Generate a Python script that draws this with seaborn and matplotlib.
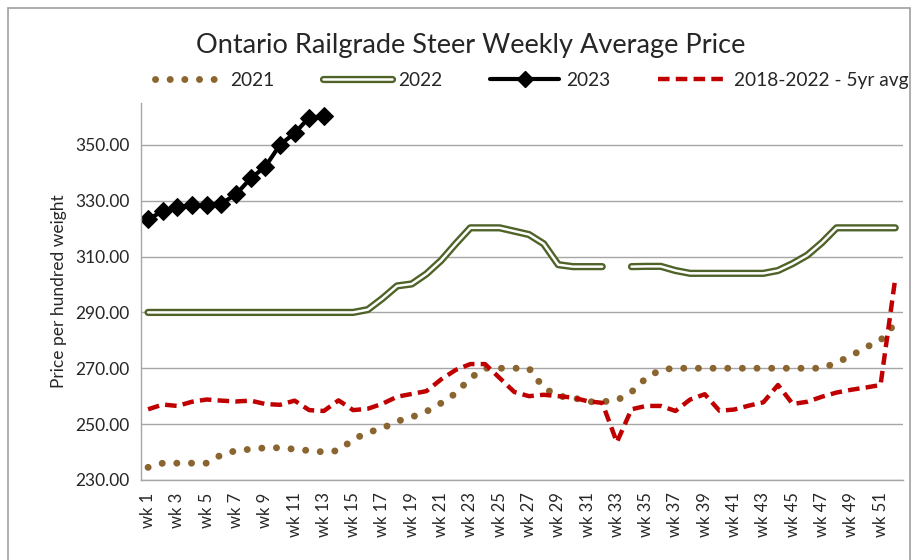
import numpy as np
import pandas as pd
import matplotlib.pyplot as plt
import seaborn as sns
from matplotlib.lines import Line2D
from matplotlib.patches import Rectangle
from matplotlib.legend_handler import HandlerTuple

sns.set_style("white")
plt.rcParams['font.family'] = ['Lato', 'DejaVu Sans']

weeks = list(range(1, 53))
week_labels = [f"wk {w}" for w in weeks]

y2021 = [234.5, 236, 236, 236, 236, 239, 240.5, 241, 241.5, 241.5,
         241, 240.5, 240, 240.5, 244.5, 247, 248.5, 251, 252.5, 254.5,
         257.5, 261, 266.5, 270, 270, 270, 270, 263, 260, 259.5,
         258, 258, 258.5, 261.5, 266.5, 269.5, 270, 270, 270, 270,
         270, 270, 270, 270, 270, 270, 270, 272, 274.5, 277.5,
         280, 286]
y2022 = [290, 290, 290, 290, 290, 290, 290, 290, 290, 290,
         290, 290, 290, 290, 290, 291, 295, 299.5, 300.2, 303.8,
         308.6, 314.6, 320.3, 320.3, 320.3, 319.1, 317.9, 314.6, 307.1, 306.4,
         306.4, 306.4, np.nan, 306.4, 306.5, 306.5, 305, 304, 304, 304,
         304, 304, 304, 305, 307.5, 310.5, 315, 320.3, 320.3, 320.3,
         320.3, 320.3]
y2023 = [323.3, 326.3, 327.8, 328.4, 328.4, 329, 332.3, 338, 342.2, 350,
         354.2, 359.8, 360.2]
avg5 = [255.3, 257, 256.5, 258, 258.8, 258.4, 258.1, 258.4, 257.2, 256.9,
        258.4, 255, 254.7, 258.5, 255, 255.5, 257.3, 259.8, 260.8, 261.8,
        266, 269.4, 271.5, 271.5, 266.5, 261.5, 260, 260.5, 260, 259.5,
        258.2, 257.6, 243.5, 255.3, 256.5, 256.5, 254.7, 258.8, 260.7, 254.8,
        255.2, 256.6, 257.8, 264, 257.2, 258, 259.8, 261.3, 262.3, 263.1,
        264, 302]

brown = "#8a6530"
green = "#4f6228"
red = "#c00000"
grey = "#a6a6a6"

df = pd.DataFrame({"week": weeks, "y2021": y2021, "y2022": y2022, "avg": avg5})
df23 = pd.DataFrame({"week": weeks[:len(y2023)], "y2023": y2023})
seg_a = df[df["week"] <= 32]
seg_b = df[df["week"] >= 34]

fig = plt.figure(figsize=(9.2, 5.6), dpi=100)
ax = fig.add_axes([0.153, 0.143, 0.828, 0.673])

dot_style = (0, (0.01, 2.1))
sns.lineplot(data=df, x="week", y="y2021", ax=ax, color=brown, lw=5,
             linestyle=dot_style, dash_capstyle="round", legend=False)
for seg in (seg_a, seg_b):
    sns.lineplot(data=seg, x="week", y="y2022", ax=ax, color=green, lw=5.2,
                 solid_capstyle="round", legend=False)
    sns.lineplot(data=seg, x="week", y="y2022", ax=ax, color="white", lw=1.8,
                 solid_capstyle="round", legend=False)
sns.lineplot(data=df23, x="week", y="y2023", ax=ax, color="black", lw=3,
             marker="D", markersize=9.5, markeredgecolor="black",
             markerfacecolor="black", legend=False)
sns.lineplot(data=df, x="week", y="avg", ax=ax, color=red, lw=3.2,
             linestyle=(0, (2.6, 1.4)), legend=False)

ax.set_xlim(0.5, 52.5)
ax.set_ylim(230, 365)
yt = np.arange(230, 351, 20)
ax.set_yticks(yt)
ax.set_yticklabels([f"{v:.2f}" for v in yt], fontsize=12.5)
ax.set_xticks(weeks[::2])
ax.set_xticklabels(week_labels[::2], rotation=90, fontsize=12)
ax.set_xticks(np.arange(0.5, 53, 1), minor=True)
ax.tick_params(axis="x", which="major", length=0, pad=9)
ax.tick_params(axis="x", which="minor", length=5, color=grey, width=1)
ax.tick_params(axis="y", length=5, color=grey, width=1, pad=3)
ax.grid(axis="y", color=grey, lw=1)
ax.set_axisbelow(True)
for s in ("top", "right"):
    ax.spines[s].set_visible(False)
for s in ("left", "bottom"):
    ax.spines[s].set_color(grey)
    ax.spines[s].set_linewidth(1)
ax.set_xlabel("")
ax.set_ylabel("Price per hundred weight", fontsize=12.5, labelpad=6)

fig.text(0.512, 0.918, "Ontario Railgrade Steer Weekly Average Price",
         ha="center", va="center", fontsize=19.5)

h2021 = Line2D([], [], color=brown, lw=5, linestyle=dot_style, dash_capstyle="round")
h2022 = (Line2D([], [], color=green, lw=5.2, solid_capstyle="round"),
         Line2D([], [], color="white", lw=1.8, solid_capstyle="round"))
h2023 = Line2D([], [], color="black", lw=3, marker="D", markersize=8.5, markevery=[1])
havg = Line2D([], [], color=red, lw=3.2, linestyle=(0, (2.6, 1.4)))
fig.legend([h2021, h2022, h2023, havg],
           ["2021", "2022", "2023", "2018-2022 - 5yr avg"],
           handler_map={tuple: HandlerTuple(ndivide=1)},
           loc="center", bbox_to_anchor=(0.578, 0.857), ncol=4, frameon=False,
           fontsize=13.8, handlelength=3.6, handletextpad=0.35, columnspacing=2.5)

fig.patches.append(Rectangle((8 / 920, -0.01), 902 / 920, 1 - 8 / 560 + 0.01,
                             transform=fig.transFigure, fill=False,
                             ec="#a0a0a0", lw=1.2))

fig.savefig("out.png", dpi=100)
